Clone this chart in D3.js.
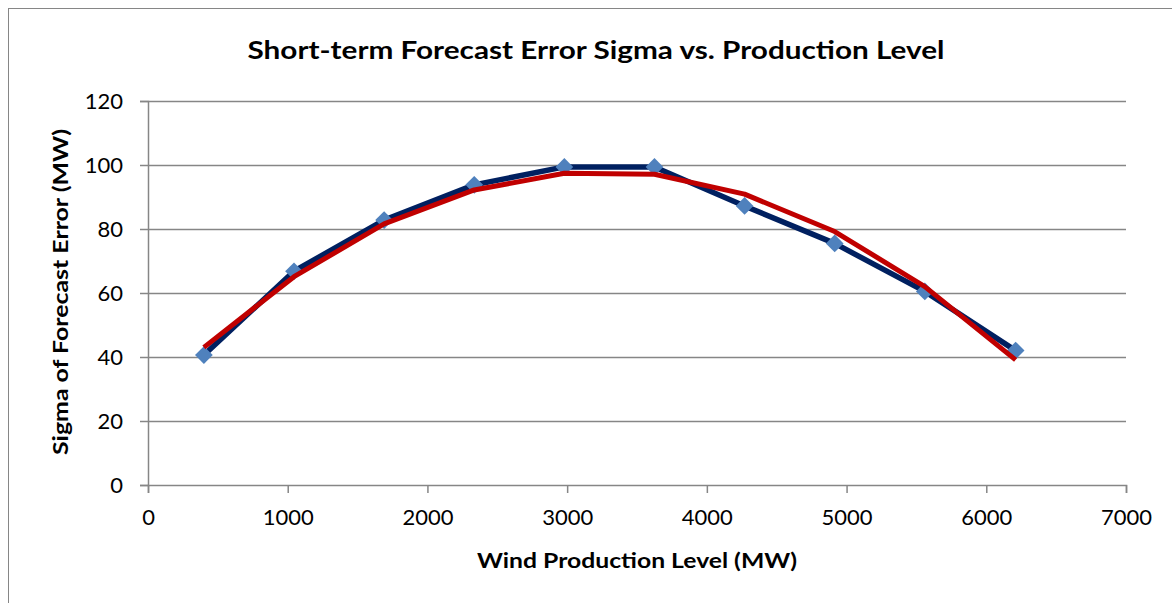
<!DOCTYPE html>
<html lang="en">
<head>
    <meta charset="UTF-8">
    <script type="text/javascript" src="https://cdn.jsdelivr.net/npm/d3@7/dist/d3.min.js"></script>
    <title>Forecast error sigma</title>
    <style>
        body { margin: 0; background: #fff; }
        text { font-family: Lato, "Open Sans", sans-serif; }
    </style>
</head>
<body>
<script type="text/javascript">
    // production levels (MW) and sigma values (MW)
    var production = [400, 1045, 1690, 2335, 2980, 3625, 4270, 4915, 5560, 6210];
    var sigmaObserved = [40.6, 66.8, 82.8, 93.8, 99.4, 99.4, 87.2, 75.5, 60.5, 42.0];
    var sigmaFitted = [43.0, 65.1, 81.6, 92.2, 97.4, 97.1, 90.9, 79.2, 62.0, 39.1];
    var xTicks = [0, 1000, 2000, 3000, 4000, 5000, 6000, 7000];
    var yTicks = [0, 20, 40, 60, 80, 100, 120];

    var W = 1172, H = 603;
    var svg = d3.select("body").append("svg")
            .attr("width", W)
            .attr("height", H);

    // chart frame
    svg.append("rect")
            .attr("x", 8.5).attr("y", 8.5)
            .attr("width", W + 20).attr("height", H + 20)
            .attr("fill", "none")
            .attr("stroke", "#868686")
            .attr("stroke-width", 1);

    var x = d3.scaleLinear().domain([0, 7000]).range([148, 1126]);
    var y = d3.scaleLinear().domain([0, 120]).range([485, 101]);

    // horizontal gridlines
    svg.append("g")
            .selectAll("line")
            .data(yTicks.filter(function(d){ return d > 0; }))
            .enter()
            .append("line")
            .attr("x1", x(0)).attr("x2", x(7000))
            .attr("y1", function(d){ return Math.round(y(d)) + 0.5; })
            .attr("y2", function(d){ return Math.round(y(d)) + 0.5; })
            .attr("stroke", "#868686")
            .attr("stroke-width", 1.5);

    var xAxis = svg.append("g")
            .attr("transform", "translate(0," + y(0) + ")")
            .call(d3.axisBottom(x).tickValues(xTicks).tickSize(8).tickPadding(16).tickFormat(d3.format("d")));
    var yAxis = svg.append("g")
            .attr("transform", "translate(" + x(0) + ",0)")
            .call(d3.axisLeft(y).tickValues(yTicks).tickSize(8).tickPadding(17));

    [xAxis, yAxis].forEach(function(a){
        a.select(".domain").attr("stroke", "#868686").attr("stroke-width", 1.5);
        a.selectAll(".tick line").attr("stroke", "#868686").attr("stroke-width", 1.5);
        a.selectAll(".tick text")
                .attr("fill", "#000")
                .style("font-size", "22px")
                .style("font-family", "Lato, 'Open Sans', sans-serif");
    });
    yAxis.selectAll(".tick text").attr("dy", "0.35em");

    var line = d3.line()
            .x(function(d){ return x(d[0]); })
            .y(function(d){ return y(d[1]); });

    var observed = d3.zip(production, sigmaObserved);
    var fitted = d3.zip(production, sigmaFitted);

    svg.append("path")
            .datum(observed)
            .attr("d", line)
            .attr("fill", "none")
            .attr("stroke", "#002060")
            .attr("stroke-width", 5.5)
            .attr("stroke-linejoin", "round");

    svg.append("g")
            .selectAll("path")
            .data(observed)
            .enter()
            .append("path")
            .attr("d", d3.symbol().type(d3.symbolDiamond2).size(200))
            .attr("transform", function(d){ return "translate(" + x(d[0]) + "," + y(d[1]) + ")"; })
            .attr("fill", "#4f81bd");

    svg.append("path")
            .datum(fitted)
            .attr("d", line)
            .attr("fill", "none")
            .attr("stroke", "#c00000")
            .attr("stroke-width", 5)
            .attr("stroke-linejoin", "round");

    // titles
    svg.append("text")
            .attr("x", 596).attr("y", 59)
            .attr("text-anchor", "middle")
            .attr("textLength", 697)
            .attr("lengthAdjust", "spacingAndGlyphs")
            .style("font-size", "25px")
            .style("font-weight", "bold")
            .text("Short-term Forecast Error Sigma vs. Production Level");

    svg.append("text")
            .attr("x", 637).attr("y", 568)
            .attr("text-anchor", "middle")
            .attr("textLength", 320)
            .attr("lengthAdjust", "spacingAndGlyphs")
            .style("font-size", "20px")
            .style("font-weight", "bold")
            .text("Wind Production Level (MW)");

    svg.append("text")
            .attr("transform", "translate(68,292) rotate(-90)")
            .attr("text-anchor", "middle")
            .attr("textLength", 326)
            .attr("lengthAdjust", "spacingAndGlyphs")
            .style("font-size", "20px")
            .style("font-weight", "bold")
            .text("Sigma of Forecast Error (MW)");
</script>
</body>
</html>
